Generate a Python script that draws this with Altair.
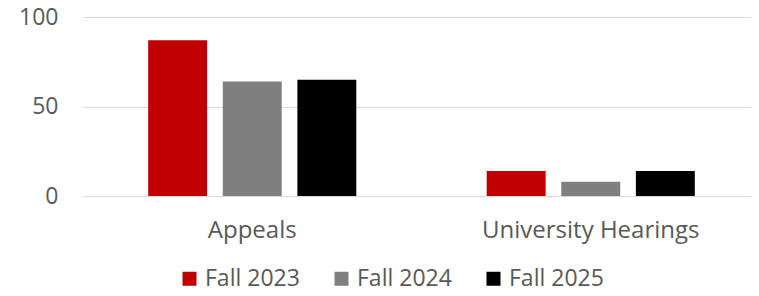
import altair as alt
import pandas as pd

categories = ["Appeals", "University Hearings"]
series = ["Fall 2023", "Fall 2024", "Fall 2025"]
fall_2023 = [87, 14]
fall_2024 = [64, 8]
fall_2025 = [65, 14]
colors = ["#C00000", "#7F7F7F", "#000000"]
y_ticks = [0, 50, 100]

rows = []
for name, vals in zip(series, [fall_2023, fall_2024, fall_2025]):
    for c, v in zip(categories, vals):
        rows.append({"category": c, "series": name, "value": v})
df = pd.DataFrame(rows)

FONT = "Open Sans"
TXT = "#595959"
GRID = "#D9D9D9"

chart = alt.Chart(df).mark_bar().encode(
    x=alt.X(
        "category:N",
        sort=categories,
        scale=alt.Scale(paddingInner=0, paddingOuter=0, range=[0, 677]),
        axis=alt.Axis(title=None, labelAngle=0, ticks=False, domain=False, grid=False,
                      labelPadding=22, labelFontSize=24, labelFont=FONT, labelColor=TXT,
                      labelLimit=0),
    ),
    xOffset=alt.XOffset("series:N", sort=series,
                        scale=alt.Scale(paddingInner=0.21, paddingOuter=0.874)),
    y=alt.Y(
        "value:Q",
        scale=alt.Scale(domain=[0, 100], nice=False),
        axis=alt.Axis(title=None, values=y_ticks, ticks=False, domain=False,
                      gridColor=GRID, gridWidth=1, labelPadding=25,
                      labelFontSize=23, labelFont=FONT, labelColor=TXT),
    ),
    color=alt.Color(
        "series:N",
        sort=series,
        scale=alt.Scale(domain=series, range=colors),
        legend=alt.Legend(title=None, orient="none", direction="horizontal",
                          legendX=95, legendY=250,
                          symbolType="square", symbolSize=196, symbolStrokeWidth=0,
                          labelFontSize=23, labelFont=FONT, labelColor=TXT,
                          labelOffset=4, columnPadding=30),
    ),
).properties(
    width=668,
    height=179,
    padding={"left": 75, "top": 9, "right": 0, "bottom": 92},
    autosize=alt.AutoSizeParams(type="none"),
).configure_view(stroke=None)

chart.save("out.html", embed_options={"renderer": "svg", "actions": False})
